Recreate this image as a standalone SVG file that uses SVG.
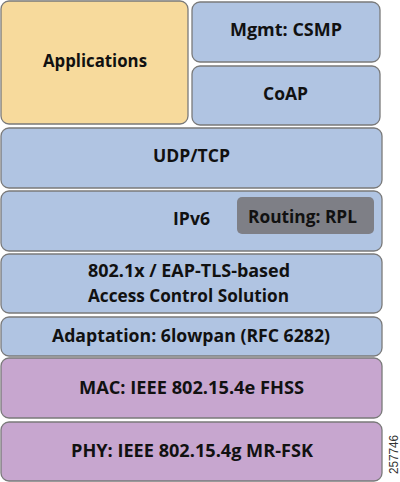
<svg xmlns="http://www.w3.org/2000/svg" width="400" height="482" viewBox="0 0 400 482">
<style>
.box{stroke:#7a7a7a;stroke-width:1.3}
.y{fill:#F7DA9C}
.b{fill:#B0C4E2}
.p{fill:#C7A6CF}
.g{fill:#7E7F86;stroke:none}
text{font-family:"Open Sans",Lato,"Liberation Sans",sans-serif;font-weight:bold;font-size:17.5px;fill:#111;text-anchor:middle}
</style>
<rect width="400" height="482" fill="#fff"/>
<g id="applications"><rect class="box y" x="1" y="1" width="187" height="123" rx="8"/><text x="95" y="67" textLength="104" lengthAdjust="spacingAndGlyphs">Applications</text></g>
<g id="mgmt"><rect class="box b" x="192" y="2" width="188" height="60" rx="8"/><text x="286" y="36" textLength="112" lengthAdjust="spacingAndGlyphs">Mgmt: CSMP</text></g>
<g id="coap"><rect class="box b" x="192" y="66" width="188" height="59" rx="8"/><text x="285.5" y="100" textLength="45" lengthAdjust="spacingAndGlyphs">CoAP</text></g>
<g id="udptcp"><rect class="box b" x="1" y="128" width="381" height="60" rx="8"/><text x="191.5" y="162" textLength="77" lengthAdjust="spacingAndGlyphs">UDP/TCP</text></g>
<g id="ipv6"><rect class="box b" x="1" y="191" width="381" height="60" rx="8"/><text x="191.5" y="225" textLength="37" lengthAdjust="spacingAndGlyphs">IPv6</text>
<g id="routing"><rect class="g" x="237" y="197" width="137" height="37" rx="5"/><text x="302.5" y="223" textLength="109" lengthAdjust="spacingAndGlyphs">Routing: RPL</text></g></g>
<g id="access"><rect class="box b" x="1" y="254" width="381" height="59" rx="8"/><text x="189" y="277" textLength="202" lengthAdjust="spacingAndGlyphs">802.1x / EAP-TLS-based</text><text x="188.5" y="302" textLength="201" lengthAdjust="spacingAndGlyphs">Access Control Solution</text></g>
<g id="adaptation"><rect class="box b" x="1" y="317" width="381" height="39" rx="8"/><text x="191" y="342" textLength="278" lengthAdjust="spacingAndGlyphs">Adaptation: 6lowpan (RFC 6282)</text></g>
<g id="mac"><rect class="box p" x="1" y="358" width="381" height="60" rx="8"/><text x="191.5" y="394" textLength="225" lengthAdjust="spacingAndGlyphs">MAC: IEEE 802.15.4e FHSS</text></g>
<g id="phy"><rect class="box p" x="1" y="422" width="381" height="59" rx="8"/><text x="192" y="457" textLength="242" lengthAdjust="spacingAndGlyphs">PHY: IEEE 802.15.4g MR-FSK</text></g>
<g id="connectors"/>
<text x="0" y="0" transform="translate(398,474) rotate(-90)" textLength="39" lengthAdjust="spacingAndGlyphs" style="font-family:'Liberation Sans',sans-serif;font-weight:normal;font-size:12px;fill:#333;text-anchor:start">257746</text>
</svg>
